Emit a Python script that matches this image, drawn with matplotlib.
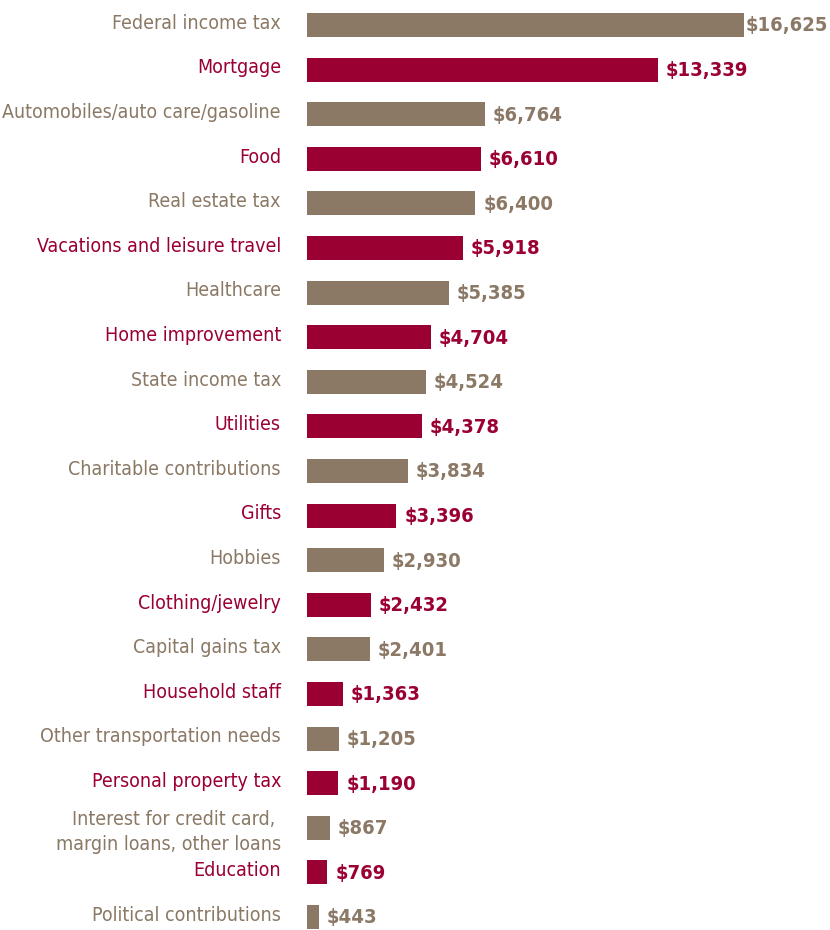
import matplotlib.pyplot as plt
from matplotlib import font_manager

categories = [
    "Federal income tax", "Mortgage", "Automobiles/auto care/gasoline", "Food",
    "Real estate tax", "Vacations and leisure travel", "Healthcare",
    "Home improvement", "State income tax", "Utilities",
    "Charitable contributions", "Gifts", "Hobbies", "Clothing/jewelry",
    "Capital gains tax", "Household staff", "Other transportation needs",
    "Personal property tax",
    "Interest for credit card, \nmargin loans, other loans",
    "Education", "Political contributions",
]
values = [16625, 13339, 6764, 6610, 6400, 5918, 5385, 4704, 4524, 4378,
          3834, 3396, 2930, 2432, 2401, 1363, 1205, 1190, 867, 769, 443]

taupe = "#8B7966"
crimson = "#9B0032"

# look for a narrow face; otherwise fall back to a plain sans
fonts = font_manager.fontManager.ttflist
narrow = [f for f in fonts if f.name == "DejaVu Sans" and "condensed" in str(f.stretch)]
if narrow:
    family, stretch = "DejaVu Sans", "condensed"
else:
    family, stretch = "Roboto", "normal"

fig = plt.figure(figsize=(8.3, 9.3), dpi=100)
ax = fig.add_axes([307 / 830, 0, 523 / 830, 1])

step = 44.6
top = -25 / step
bottom = (930 - 25) / step
scale = 437 / 16625

for i, (cat, v) in enumerate(zip(categories, values)):
    c = taupe if i % 2 == 0 else crimson
    ax.barh(i, v, height=24 / step, color=c)
    # leave a small gap after the bar, tighter when near the right edge
    gap = min(8, 523 - 84 - v * scale)
    ax.text(v + gap / scale, i + 0.02, f"${v:,}", va="center", ha="left",
            fontsize=14.5, fontweight="bold", color=c, family=family,
            fontstretch=stretch)
    ax.text(-26 / scale, i + (0.09 if "\n" in cat else -0.04), cat,
            va="center", ha="right",
            fontsize=14, color=c, family=family, fontstretch=stretch,
            clip_on=False, linespacing=1.4)

ax.set_xlim(0, 523 / scale)
ax.set_ylim(bottom, top)
ax.axis("off")

fig.savefig("out.png", dpi=100)
